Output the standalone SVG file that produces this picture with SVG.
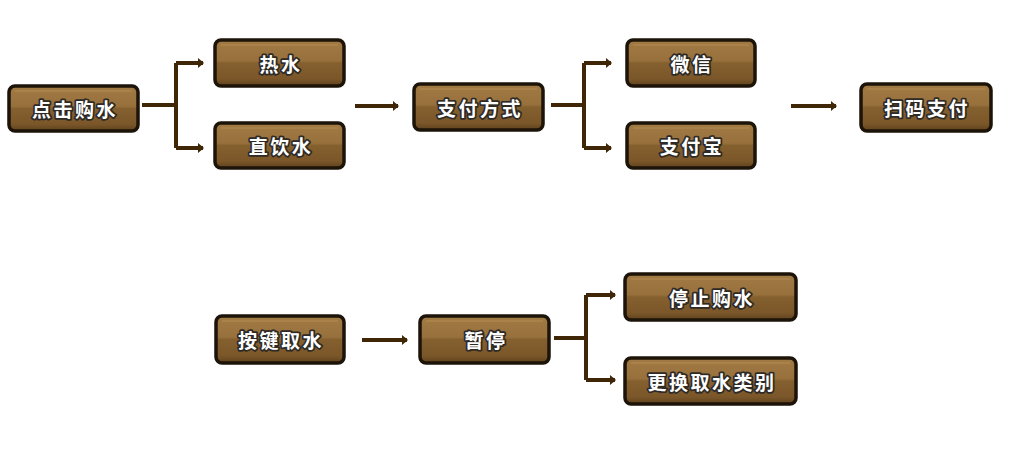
<svg xmlns="http://www.w3.org/2000/svg" width="1019" height="451" viewBox="0 0 1019 451">
<style>
.box{fill:url(#wood);stroke:#1c1309;stroke-width:3.5}
.hl{fill:none;stroke:#c29a5c;stroke-width:1;opacity:0.6}
.lbl{font-family:"Noto Sans CJK SC","Noto Sans",sans-serif;font-weight:bold;font-size:19px;letter-spacing:2.5px;fill:#ffffff;stroke:#2e2a26;stroke-width:3.5;paint-order:stroke;stroke-linejoin:round;text-anchor:middle;dominant-baseline:central}
.c{fill:none;stroke:#3e2607;stroke-width:4}
</style>
<defs>
<linearGradient id="wood" x1="0" y1="0" x2="0" y2="1">
<stop offset="0" stop-color="#a27a44"/>
<stop offset="0.45" stop-color="#97703c"/>
<stop offset="0.5" stop-color="#85602f"/>
<stop offset="0.85" stop-color="#7a5629"/>
<stop offset="1" stop-color="#5e411d"/>
</linearGradient>
<marker id="ah" viewBox="0 0 6 10" refX="5" refY="5" markerWidth="6" markerHeight="10" markerUnits="userSpaceOnUse" orient="auto">
<path d="M0,0 L6,5 L0,10 Z" fill="#3e2607"/>
</marker>
</defs>
<g id="connectors">
<path class="c" d="M142,105 H176 M176,63 V148"/>
<path class="c" d="M176,63 H203" marker-end="url(#ah)"/>
<path class="c" d="M176,148 H203" marker-end="url(#ah)"/>
<path class="c" d="M355,106 H398" marker-end="url(#ah)"/>
<path class="c" d="M551,105 H584 M584,63 V148"/>
<path class="c" d="M584,63 H611" marker-end="url(#ah)"/>
<path class="c" d="M584,148 H611" marker-end="url(#ah)"/>
<path class="c" d="M791,106 H836" marker-end="url(#ah)"/>
<path class="c" d="M362,340 H407" marker-end="url(#ah)"/>
<path class="c" d="M554,338 H586 M586,295 V380"/>
<path class="c" d="M586,295 H615" marker-end="url(#ah)"/>
<path class="c" d="M586,380 H615" marker-end="url(#ah)"/>
</g>
<g id="n1"><rect class="box" x="9" y="86" width="129" height="45" rx="6"/><path class="hl" d="M15,91 H132"/><text class="lbl" x="75" y="108">点击购水</text></g>
<g id="n2"><rect class="box" x="215" y="40" width="129" height="46" rx="6"/><path class="hl" d="M221,45 H338"/><text class="lbl" x="281" y="63">热水</text></g>
<g id="n3"><rect class="box" x="215" y="123" width="129" height="45" rx="6"/><path class="hl" d="M221,128 H338"/><text class="lbl" x="281" y="145">直饮水</text></g>
<g id="n4"><rect class="box" x="414" y="84" width="129" height="46" rx="6"/><path class="hl" d="M420,89 H537"/><text class="lbl" x="480" y="107">支付方式</text></g>
<g id="n5"><rect class="box" x="627" y="40" width="128" height="46" rx="6"/><path class="hl" d="M633,45 H749"/><text class="lbl" x="692" y="63">微信</text></g>
<g id="n6"><rect class="box" x="627" y="123" width="128" height="45" rx="6"/><path class="hl" d="M633,128 H749"/><text class="lbl" x="692" y="145">支付宝</text></g>
<g id="n7"><rect class="box" x="861" y="84" width="130" height="47" rx="6"/><path class="hl" d="M867,89 H985"/><text class="lbl" x="927" y="107">扫码支付</text></g>
<g id="n8"><rect class="box" x="216" y="316" width="128" height="47" rx="6"/><path class="hl" d="M222,321 H338"/><text class="lbl" x="281" y="339">按键取水</text></g>
<g id="n9"><rect class="box" x="420" y="316" width="129" height="47" rx="6"/><path class="hl" d="M426,321 H543"/><text class="lbl" x="486" y="339">暂停</text></g>
<g id="n10"><rect class="box" x="625" y="274" width="171" height="46" rx="6"/><path class="hl" d="M631,279 H790"/><text class="lbl" x="712" y="297">停止购水</text></g>
<g id="n11"><rect class="box" x="625" y="358" width="171" height="46" rx="6"/><path class="hl" d="M631,363 H790"/><text class="lbl" x="712" y="381">更换取水类别</text></g>
</svg>
